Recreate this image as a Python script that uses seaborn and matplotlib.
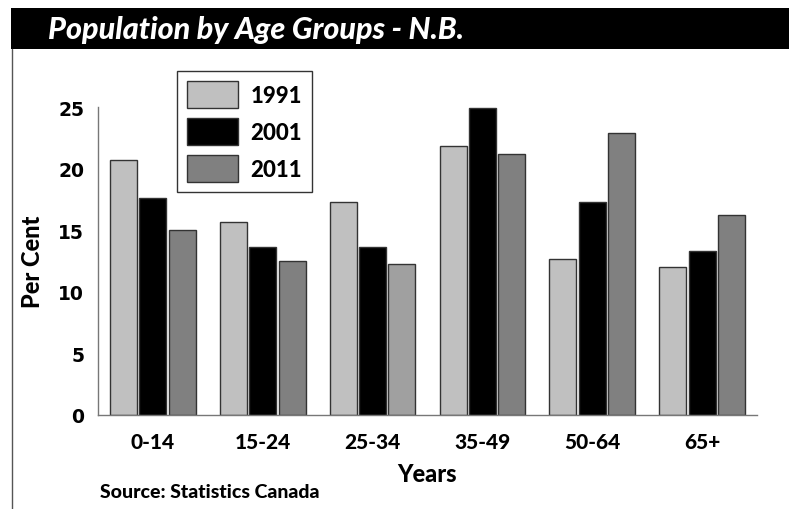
import numpy as np
import pandas as pd
import seaborn as sns
import matplotlib.pyplot as plt
from matplotlib.patches import Rectangle
from matplotlib.lines import Line2D

# data
age_groups = ['0-14', '15-24', '25-34', '35-49', '50-64', '65+']
years = ['1991', '2001', '2011']
pct_1991 = [20.7, 15.7, 17.3, 21.8, 12.7, 12.0]
pct_2001 = [17.6, 13.6, 13.6, 24.9, 17.3, 13.3]
pct_2011 = [15.0, 12.5, 12.25, 21.2, 22.9, 16.2]

df = pd.DataFrame({
    'age': age_groups * 3,
    'year': [y for y in years for _ in age_groups],
    'pct': pct_1991 + pct_2001 + pct_2011,
})

sns.set_style('white')
plt.rcParams['text.color'] = 'black'
plt.rcParams['axes.labelcolor'] = 'black'
plt.rcParams['xtick.color'] = 'black'
plt.rcParams['ytick.color'] = 'black'
narrow = ['Lato', 'DejaVu Sans']
wide = ['DejaVu Sans']
heavy = 'black'

fig = plt.figure(figsize=(7.89, 5.10), dpi=100)
ax = fig.add_axes([98/789, 1-416/510, (757-98)/789, (416-108)/510])

colors = {'1991': '#c0c0c0', '2001': '#000000', '2011': '#808080'}
sns.barplot(data=df, x='age', y='pct', hue='year', palette=colors,
            width=0.8, gap=0.08, edgecolor='#333333', linewidth=1.0,
            saturation=1, ax=ax)
# the 25-34 / 2011 bar is a lighter grey in the original
ax.containers[2][2].set_facecolor('#a0a0a0')

ax.set_ylim(0, 25)
ax.set_xlim(-0.5, 5.5)
ax.set_yticks([0, 5, 10, 15, 20, 25])
ax.tick_params(length=0)
ax.tick_params(axis='y', pad=10)
ax.tick_params(axis='x', pad=12)
for t in ax.get_yticklabels():
    t.set_fontfamily(wide)
    t.set_fontweight('bold')
    t.set_fontsize(13.5)
for t in ax.get_xticklabels():
    t.set_fontfamily(narrow)
    t.set_fontweight(heavy)
    t.set_fontsize(15)

sns.despine(ax=ax, top=True, right=True)
ax.spines['left'].set_color('#777777')
ax.spines['bottom'].set_color('#777777')
ax.spines['left'].set_linewidth(1)
ax.spines['bottom'].set_linewidth(1)

ax.set_xlabel('Years', family=narrow, fontweight=heavy, fontsize=17, labelpad=8)
ax.set_ylabel('Per Cent', family=narrow, fontweight=heavy, fontsize=17, labelpad=10)

ax.get_legend().remove()
handles = [Rectangle((0, 0), 1, 1, facecolor=colors[y], edgecolor='#333333') for y in years]
leg = fig.legend(handles, years, loc='upper left',
                 bbox_to_anchor=(177/789, 1-72/510), bbox_transform=fig.transFigure,
                 frameon=True, fancybox=False, edgecolor='black',
                 handlelength=2.3, handleheight=1.5, handletextpad=0.55,
                 labelspacing=0.45, borderpad=0.45, borderaxespad=0,
                 prop={'family': narrow, 'weight': heavy, 'size': 16})
leg.get_frame().set_linewidth(1)

# title band and left frame line
fig.patches.append(Rectangle((11/789, 1-50/510), 1-11/789, 41/510, transform=fig.transFigure,
                             facecolor='black', edgecolor='none', zorder=0))
fig.lines.append(Line2D([12/789, 12/789], [0, 1-50/510], transform=fig.transFigure,
                        color='#555555', linewidth=1))
fig.text(48/789, 1-30/510, 'Population by Age Groups - N.B.', color='white',
         family=narrow, fontweight=heavy, fontstyle='italic', fontsize=22, va='center')
fig.text(100/789, 1-493/510, 'Source: Statistics Canada', family=narrow,
         fontweight=heavy, fontsize=14, va='center')

fig.savefig('out.png', dpi=100)
